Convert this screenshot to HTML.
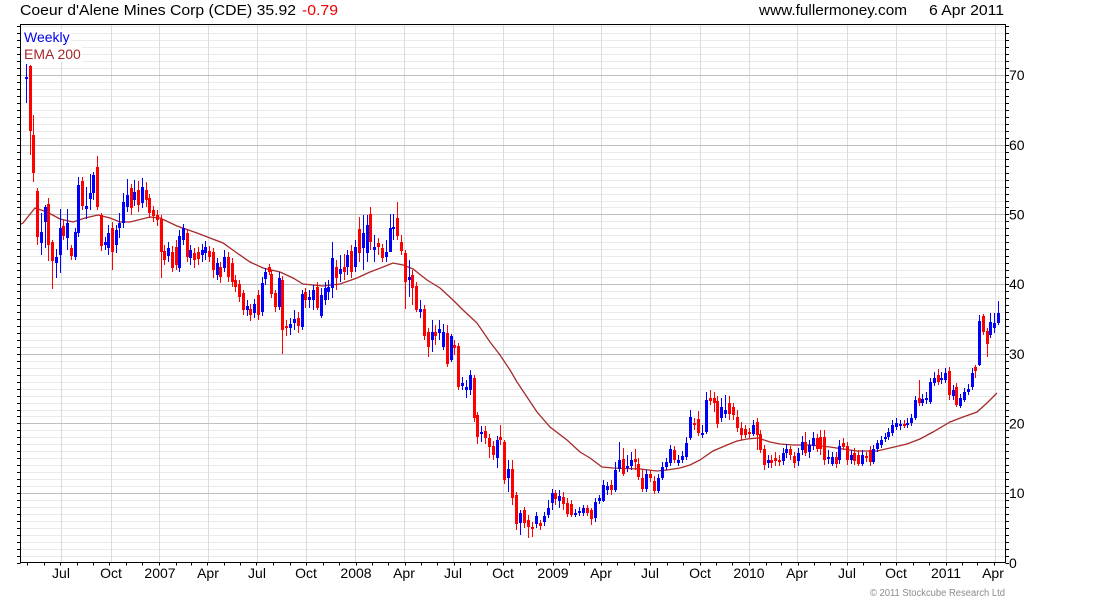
<!DOCTYPE html>
<html>
<head>
<meta charset="utf-8">
<style>
  html,body{margin:0;padding:0;background:#fff;}
  svg{display:block;}
  text{font-family:"Liberation Sans",Arial,sans-serif;}
</style>
</head>
<body>
<svg id="c" width="1100" height="600" viewBox="0 0 1100 600" xmlns="http://www.w3.org/2000/svg">
  <rect x="0" y="0" width="1100" height="600" fill="#ffffff"/>
  <g id="grid" shape-rendering="crispEdges"></g>
  <g id="ema"></g>
  <g id="bars" shape-rendering="crispEdges"></g>
  <g id="axes" shape-rendering="crispEdges"></g>

  <!-- legend backgrounds -->
  <rect x="21" y="29" width="50" height="17" fill="#fff"/>
  <rect x="21" y="46" width="61" height="16" fill="#fff"/>
  <text x="24" y="42" font-size="14" fill="#0000ee">Weekly</text>
  <text x="24" y="59" font-size="14" fill="#a52a2a">EMA 200</text>

  <!-- title -->
  <text x="20" y="15" font-size="15" fill="#000" textLength="276" lengthAdjust="spacingAndGlyphs">Coeur d'Alene Mines Corp (CDE) 35.92</text>
  <text x="302" y="15" font-size="15" fill="#ee0000" textLength="36" lengthAdjust="spacingAndGlyphs">-0.79</text>
  <text x="759" y="15" font-size="15" fill="#000" textLength="148" lengthAdjust="spacingAndGlyphs">www.fullermoney.com</text>
  <text x="929" y="15" font-size="15" fill="#000" textLength="75" lengthAdjust="spacingAndGlyphs">6 Apr 2011</text>

  <!-- y labels -->
  <g font-size="14" fill="#000">
    <text x="1009" y="567.8">0</text>
    <text x="1009" y="498.1">10</text>
    <text x="1009" y="428.5">20</text>
    <text x="1009" y="358.8">30</text>
    <text x="1009" y="289.1">40</text>
    <text x="1009" y="219.5">50</text>
    <text x="1009" y="149.8">60</text>
    <text x="1009" y="80.1">70</text>
  </g>

  <!-- x labels -->
  <g font-size="14" fill="#000" text-anchor="middle">
    <text x="61" y="578">Jul</text>
    <text x="111" y="578">Oct</text>
    <text x="160" y="578">2007</text>
    <text x="208" y="578">Apr</text>
    <text x="257" y="578">Jul</text>
    <text x="306" y="578">Oct</text>
    <text x="356" y="578">2008</text>
    <text x="404" y="578">Apr</text>
    <text x="453" y="578">Jul</text>
    <text x="503" y="578">Oct</text>
    <text x="553" y="578">2009</text>
    <text x="601" y="578">Apr</text>
    <text x="650" y="578">Jul</text>
    <text x="700" y="578">Oct</text>
    <text x="749" y="578">2010</text>
    <text x="797" y="578">Apr</text>
    <text x="847" y="578">Jul</text>
    <text x="896" y="578">Oct</text>
    <text x="946" y="578">2011</text>
    <text x="993" y="578">Apr</text>
  </g>

  <text x="870" y="596" font-size="10" fill="#8c8c8c" textLength="135" lengthAdjust="spacingAndGlyphs">© 2011 Stockcube Research Ltd</text>
</svg>

<script>
(function(){
var NS="http://www.w3.org/2000/svg";
function el(tag,attrs,parent){var e=document.createElementNS(NS,tag);for(var k in attrs)e.setAttribute(k,attrs[k]);parent.appendChild(e);return e;}
function Y(v){return 562.8-6.967*v;}
function py(y){return Math.round(y)+0.5;}

var grid=document.getElementById('grid');
var axes=document.getElementById('axes');
var L=20.5,R=1005.5,T=24.5,B=562.5;

// minor horizontal
for(var v=1;v<=77;v++){ if(v%10!==0){ var y=py(Y(v)); if(y>T) el('line',{x1:L,x2:R,y1:y,y2:y,stroke:'#ebebeb','stroke-width':1},grid);} }
// vertical gridlines
var vx=[61,111,159,208,257,306,355,404,453,503,553,601,650,700,749,797,847,896,946,995];
vx.forEach(function(x){ el('line',{x1:x+0.5,x2:x+0.5,y1:T,y2:B,stroke:'#dcdcdc','stroke-width':1},grid);});
// major horizontal
for(var v=10;v<=70;v+=10){ var y=py(Y(v)); el('line',{x1:L,x2:R,y1:y,y2:y,stroke:'#c0c0c0','stroke-width':1},grid);}

// ticks left/right
for(var v=0;v<=77;v++){ var y=py(Y(v)); if(y<T-0.1) continue;
  el('line',{x1:17,x2:L,y1:y,y2:y,stroke:'#000','stroke-width':1},axes);
  el('line',{x1:R,x2:1009,y1:y,y2:y,stroke:'#000','stroke-width':1},axes);
}
// month ticks
var base=Date.UTC(2007,0,1);
for(var yr=2006;yr<=2011;yr++){ for(var m=0;m<12;m++){
  var d=(Date.UTC(yr,m,1)-base)/86400000; var x=159+d*0.5384;
  if(x<L+2||x>R-1) continue;
  var xx=Math.round(x)+0.5;
  el('line',{x1:xx,x2:xx,y1:B,y2:B+3,stroke:'#000','stroke-width':1},axes);
}}
// border
el('rect',{x:L,y:T,width:R-L,height:B-T,fill:'none',stroke:'#000','stroke-width':1},axes);

// EMA
var ema=[[21,224],[23,223],[35,208],[47,212],[60,219],[73,222],[85,218],[98,215],[110,218],[120,222],[130,222],[150,217],[160,218],[177,226],[197,233],[210,238],[223,243],[237,253],[250,262],[263,268],[280,272],[293,278],[303,284],[323,286],[340,284],[357,278],[370,272],[383,267],[393,263],[403,265],[413,269],[427,280],[440,288],[453,300],[463,310],[477,323],[490,342],[500,355],[510,370],[517,382],[527,397],[537,412],[550,427],[567,440],[580,452],[590,458],[602,467],[613,468],[640,469],[657,471],[667,470],[680,468],[690,465],[700,460],[713,451],[727,445],[737,441],[747,439],[758,438],[770,442],[780,444],[793,445],[810,445],[830,447],[843,449],[857,451],[877,451],[890,448],[907,444],[920,439],[933,432],[950,422],[963,417],[977,412],[987,403],[997,393]];
el('polyline',{points:ema.map(function(p){return p[0]+','+p[1];}).join(' '),fill:'none',stroke:'#a52a2a','stroke-width':1.3},document.getElementById('ema'));

// Candles: [top,bottom,color(1=blue,0=red),wickTop,wickBottom]
var A=[[77,79,1,64,103],[66,131,0,65,155],[135,173,0,115,182],[191,237,0,188,245],[232,243,1,213,255],[207,222,1,205,248],[204,245,0,198,261],[242,261,0,240,289],[257,263,1,249,278],[228,255,1,209,273],[226,236,0,220,240],[223,238,1,209,250],[248,256,0,245,260],[232,257,1,228,260],[185,233,1,177,237],[181,206,0,177,210],[206,209,1,187,219],[193,199,1,174,210],[175,193,1,172,200],[167,207,0,156,210],[215,246,0,213,251],[242,245,1,237,250],[233,248,1,225,255],[228,252,0,222,270],[230,245,1,225,253],[223,228,1,213,238],[202,223,1,193,228],[195,207,1,179,212],[188,208,0,184,215],[192,200,1,180,206],[190,205,0,181,212],[187,203,1,178,208],[190,200,0,182,207],[198,213,0,194,218],[210,216,0,206,222],[215,220,0,210,226],[219,252,0,215,278],[251,260,0,245,265],[248,256,1,242,262],[252,268,0,246,272],[247,265,0,240,270],[236,268,1,230,272],[228,240,1,224,245],[233,257,0,230,262],[250,258,1,245,265],[253,260,0,248,268],[252,259,0,247,265],[250,255,1,244,262],[247,253,1,241,260],[251,257,0,246,262],[252,270,0,248,278],[263,275,1,258,280],[267,277,0,262,283],[257,268,1,250,272],[257,277,0,252,282],[263,282,0,258,287],[280,287,0,275,292],[284,297,0,280,302],[293,310,0,290,315],[306,310,1,300,316],[309,315,0,304,321],[304,313,1,299,318],[295,315,0,290,320],[283,312,1,277,316],[272,279,1,268,285],[267,272,0,264,275]];
var Bs=[[274,294,0,270,298],[293,307,0,290,312],[278,307,1,272,310],[280,330,0,276,354],[326,328,0,320,336],[324,328,1,318,335],[319,323,1,310,330],[318,326,0,312,333],[294,327,1,290,330],[292,300,0,288,308],[297,300,1,290,308],[290,300,1,285,310],[287,308,0,282,310],[295,316,1,288,318],[288,300,1,282,305],[287,292,1,280,300],[258,288,1,242,298],[267,278,0,260,290],[269,274,1,255,282],[267,272,0,254,280],[255,267,1,250,275],[251,272,0,245,278],[247,267,1,240,272],[229,253,0,217,262],[233,248,1,215,270],[225,253,1,215,262],[214,242,0,207,250],[247,250,1,235,262],[243,247,0,238,255],[248,258,0,244,262],[252,257,1,240,262],[228,252,1,214,252],[227,229,1,214,240],[218,236,0,202,240],[242,251,0,235,255],[253,282,0,250,309],[277,280,1,260,297],[275,288,0,270,305],[286,310,0,282,312],[309,312,1,300,318],[309,336,0,305,340],[332,347,0,328,357],[332,340,1,320,352],[332,336,0,325,345],[329,333,1,320,340],[332,347,1,324,350],[333,364,0,325,367],[336,360,1,334,362],[345,348,0,340,355],[346,387,0,343,390],[383,386,1,377,390],[387,390,1,380,398],[375,390,1,370,395],[378,418,0,375,422],[415,437,0,412,444],[432,434,1,426,442],[431,438,0,426,444],[438,447,0,434,458],[446,455,0,441,460],[440,458,1,436,468],[437,440,0,425,445],[442,480,0,440,484],[469,478,1,460,492]];
var C=[[469,498,0,460,505],[495,524,0,492,530],[513,523,1,510,535],[510,523,0,507,528],[520,527,0,515,538],[527,529,0,522,537],[516,524,1,512,528],[523,526,0,520,530],[516,522,1,512,526],[508,515,1,500,518],[493,503,1,489,510],[493,499,0,490,505],[496,501,1,490,508],[497,504,0,492,510],[503,514,0,498,517],[504,515,0,500,517],[513,515,1,509,517],[511,513,1,507,516],[508,513,1,505,516],[508,513,0,505,516],[510,519,0,508,525],[502,518,1,498,522],[498,501,1,495,504],[485,501,1,480,502],[486,490,1,482,495],[485,490,0,480,495],[470,490,1,462,492],[460,469,1,442,472],[459,474,0,448,476],[466,468,1,455,472],[460,466,1,452,470],[459,462,0,449,470],[464,477,0,458,480],[478,489,0,470,492],[474,489,1,470,492],[474,478,0,470,482],[481,491,0,476,494],[478,491,1,474,493],[467,478,1,462,480],[462,467,1,458,470],[449,463,1,445,466],[450,460,0,446,463],[460,463,1,455,466],[456,460,1,451,463],[443,457,1,437,460],[417,438,1,410,440],[423,425,0,418,430],[419,433,0,411,436],[433,435,1,425,438],[400,432,1,392,434],[398,401,0,390,405],[398,403,0,392,412],[401,424,0,396,428],[407,418,1,398,422],[410,414,1,395,418],[403,414,0,396,420],[407,415,0,403,420],[417,428,0,410,432],[428,435,0,422,440],[429,435,0,425,438],[432,434,0,428,438],[425,434,1,420,436],[422,435,0,418,450]];
var D=[[434,450,0,430,453],[449,465,0,445,470],[460,463,1,455,468],[460,463,0,455,468],[458,461,0,452,466],[460,462,0,455,466],[453,461,1,448,465],[449,453,1,444,458],[449,455,0,446,460],[456,463,0,452,468],[453,461,1,448,466],[442,450,1,436,455],[442,453,0,432,456],[445,452,1,440,458],[438,446,1,432,450],[438,449,0,434,452],[437,449,0,430,455],[437,460,0,430,465],[457,459,1,450,464],[457,464,1,452,466],[457,464,0,452,468],[446,460,1,440,464],[443,447,0,438,450],[446,460,0,442,465],[455,460,1,450,464],[453,461,0,448,465],[455,464,0,450,466],[455,464,1,450,466],[456,458,0,452,462],[450,462,0,446,466],[449,462,1,445,464],[443,449,1,440,452],[440,445,1,436,448],[437,439,1,433,442],[432,437,1,428,440],[425,433,1,420,436],[423,427,1,418,430],[424,426,1,420,430],[424,426,0,420,428],[423,425,1,418,428],[418,423,1,414,426],[400,418,1,396,420],[398,403,0,380,406],[399,403,1,394,406],[398,400,1,392,404],[382,402,1,378,404],[378,383,1,372,386],[375,382,0,369,385],[378,380,1,372,384],[373,380,1,368,383],[371,395,0,367,400],[390,396,1,385,400],[387,405,0,383,407],[398,406,1,394,408],[392,400,1,388,402],[389,392,1,384,395],[373,387,1,368,390],[367,371,0,365,378],[321,365,1,315,366],[316,332,0,314,335],[331,344,0,328,357],[322,335,1,313,338],[323,328,1,313,333],[313,323,1,301,325]];

var bars=document.getElementById('bars');
function draw(arr,x0,x1){
  var n=arr.length;
  for(var i=0;i<n;i++){
    var b=arr[i]; var x=Math.round(x0+i*(x1-x0)/(n-1));
    var col=b[2]?'#0000ff':'#ff0000';
    var wt=b[3]!==undefined?b[3]:b[0]-3, wb=b[4]!==undefined?b[4]:b[1]+3;
    el('rect',{x:x,y:wt,width:1,height:Math.max(1,wb-wt),fill:col},bars);
    el('rect',{x:x-1,y:b[0],width:3,height:Math.max(2,b[1]-b[0]),fill:col},bars);
  }
}
draw(A,26,269);
draw(Bs,271,508);
draw(C,512,757);
draw(D,760,998);
})();
</script>
</body>
</html>
